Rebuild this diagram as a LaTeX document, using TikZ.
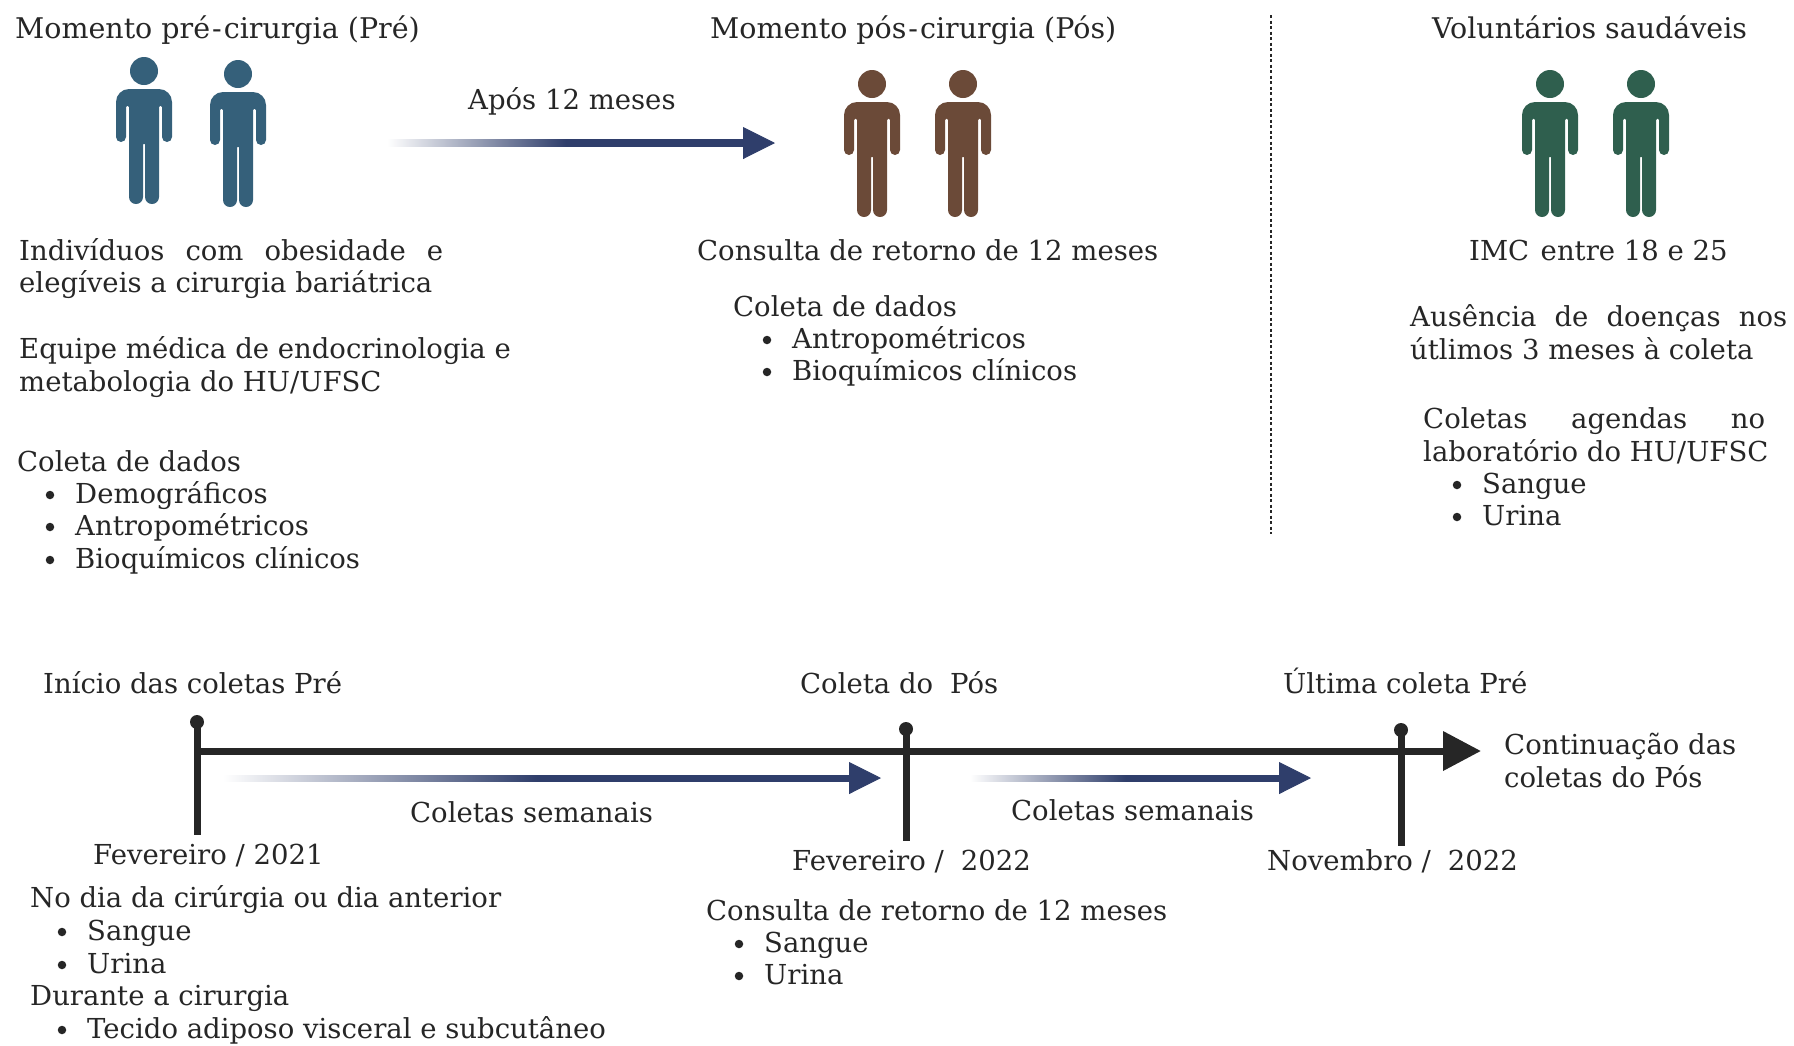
\documentclass[tikz,border=0pt]{standalone}
\usepackage{fontspec}
\usepackage{xcolor}
\setmainfont{DejaVu Serif}
\usetikzlibrary{arrows.meta,calc}
\definecolor{preblue}{HTML}{35607A}
\definecolor{posbrown}{HTML}{6B4A38}
\definecolor{healthgreen}{HTML}{2F5F4E}
\definecolor{arrowblue}{HTML}{2F3E6B}
\definecolor{lineblack}{HTML}{262626}
\pgfdeclarehorizontalshading{fadeshaft}{100bp}{color(0bp)=(white); color(25bp)=(white); color(50bp)=(arrowblue); color(100bp)=(arrowblue)}
\tikzset{
	txt/.style={anchor=base west,inner sep=0pt,text=lineblack,font=\fontsize{27.5}{30}\selectfont},
	titletxt/.style={txt,font=\fontsize{28.5}{30}\selectfont},
	timeline/.style={draw=lineblack,line width=7pt},
	tickdot/.style={circle,fill=lineblack,inner sep=0pt,minimum size=14pt},
	bulletdot/.style={circle,fill=lineblack,inner sep=0pt,minimum size=8.5pt},
	person/.pic={
		\fill (0,0) circle (14);
		\fill (-15,-18) -- (15,-18) arc (90:0:13) -- (28,-66) arc (0:-180:5) -- (18,-36) arc (0:180:1.5)
			-- (15,-126) arc (0:-180:7) -- (1,-73) -- (-1,-73) -- (-1,-126) arc (0:-180:7)
			-- (-15,-36) arc (0:180:1.5) -- (-18,-66) arc (0:-180:5) -- (-28,-31) arc (180:90:13) -- cycle;
	}
}
\newcommand{\gradarrow}[3]{
	\shade[shading=fadeshaft] ($(#1)+(0,#3)$) rectangle ($(#2)+(-30,-#3)$);
	\draw[arrowblue,line width=1pt,-{Triangle[length=32pt,width=32pt]}] ($(#2)+(-33,0)$) -- (#2);
}
\newcommand{\listline}[4]{
	\node[txt] (#1) at (#2,#3) {#4};
	\node[bulletdot] (#1dot) at (#2-25,#3+8) {};
}
\newcommand{\dashkern}{\kern2pt-\kern2pt}
\begin{document}
\begin{tikzpicture}[x=1pt,y=1pt]
	\useasboundingbox (0,0) rectangle (1794,-1045);
	% top row
	\node[titletxt] (pretitle) at (15,-38) {Momento pré\dashkern cirurgia (Pré)};
	\node[titletxt] (postitle) at (710,-38) {Momento pós\dashkern cirurgia (Pós)};
	\node[titletxt] (voltitle) at (1432,-38) {Voluntários saudáveis};
	\pic[preblue] at (144,-71) {person};
	\pic[preblue] at (238,-74) {person};
	\pic[posbrown] at (872,-84) {person};
	\pic[posbrown] at (963,-84) {person};
	\pic[healthgreen] at (1550,-84) {person};
	\pic[healthgreen] at (1641,-84) {person};
	\coordinate (stayA) at (387,-143);
	\coordinate (stayB) at (775,-143);
	\gradarrow{stayA}{stayB}{3.5}
	\node[txt] (staylabel) at (468,-109) {Após 12 meses};
	\coordinate (sepA) at (1271,-15);
	\coordinate (sepB) at (1271,-534);
	\draw[lineblack,line width=1.5pt,dash pattern=on 3pt off 2.5pt] (sepA) -- (sepB);
	% left column
	\node[txt] (prea) at (19,-260) {\makebox[424pt][s]{Indivíduos\hfil com\hfil obesidade\hfil e}};
	\node[txt] (preb) at (19,-292) {elegíveis a cirurgia bariátrica};
	\node[txt] (prec) at (19,-358) {Equipe médica de endocrinologia e};
	\node[txt] (pred) at (19,-391) {metabologia do HU/UFSC};
	\node[txt] (pree) at (17,-471) {Coleta de dados};
	\listline{pref}{75}{-503}{Demográficos}
	\listline{preg}{75}{-535}{Antropométricos}
	\listline{preh}{75}{-568}{Bioquímicos clínicos}
	% middle column
	\node[txt] (posa) at (697,-260) {Consulta de retorno de 12 meses};
	\node[txt] (posb) at (733,-316) {Coleta de dados};
	\listline{posc}{792}{-348}{Antropométricos}
	\listline{posd}{792}{-380}{Bioquímicos clínicos}
	% right column
	\node[txt] (vola) at (1469,-260) {IMC\hspace{0.1em} entre 18 e 25};
	\node[txt] (volb) at (1410,-326) {\makebox[377pt][s]{Ausência\hfil de\hfil doenças\hfil nos}};
	\node[txt] (volc) at (1410,-359) {útlimos 3 meses à coleta};
	\node[txt] (vold) at (1423,-428) {\makebox[342pt][s]{Coletas\hfil agendas\hfil no}};
	\node[txt] (vole) at (1423,-461) {laboratório do HU/UFSC};
	\listline{volf}{1482}{-493}{Sangue}
	\listline{volg}{1482}{-525}{Urina}
	% timeline
	\coordinate (tlstart) at (197,-751);
	\coordinate (tlend) at (1481,-751);
	\draw[timeline,-{Triangle[length=38pt,width=38pt]}] (tlstart) -- (tlend);
	\node[tickdot] (tickAtop) at (197,-722) {};
	\node[tickdot] (tickBtop) at (906,-729) {};
	\node[tickdot] (tickCtop) at (1401,-730) {};
	\coordinate (tickAend) at (197,-835);
	\coordinate (tickBend) at (906,-841);
	\coordinate (tickCend) at (1401,-846);
	\draw[timeline] (tickAtop.center) -- (tickAend);
	\draw[timeline] (tickBtop.center) -- (tickBend);
	\draw[timeline] (tickCtop.center) -- (tickCend);
	\coordinate (weekAa) at (223,-778);
	\coordinate (weekAb) at (881,-778);
	\gradarrow{weekAa}{weekAb}{3}
	\coordinate (weekBa) at (970,-778);
	\coordinate (weekBb) at (1311,-778);
	\gradarrow{weekBa}{weekBb}{3}
	\node[txt] (tlAhead) at (43,-693) {Início das coletas Pré};
	\node[txt] (tlBhead) at (800,-693) {Coleta do\hspace{0.3em} Pós};
	\node[txt] (tlChead) at (1283,-693) {Última coleta Pré};
	\node[txt] (tlcontA) at (1504,-754) {Continuação das};
	\node[txt] (tlcontB) at (1504,-787) {coletas do Pós};
	\node[txt] (weekAlabel) at (410,-822) {Coletas semanais};
	\node[txt] (weekBlabel) at (1011,-820) {Coletas semanais};
	\node[txt] (tlAdate) at (93,-864) {Fevereiro / 2021};
	\node[txt] (tlBdate) at (792,-870) {Fevereiro /\hspace{0.3em} 2022};
	\node[txt] (tlCdate) at (1267,-870) {Novembro /\hspace{0.3em} 2022};
	\node[txt] (tlAa) at (30,-907) {No dia da cirúrgia ou dia anterior};
	\listline{tlAb}{87}{-940}{Sangue}
	\listline{tlAc}{87}{-973}{Urina}
	\node[txt] (tlAd) at (30,-1005) {Durante a cirurgia};
	\listline{tlAe}{87}{-1038}{Tecido adiposo visceral e subcutâneo}
	\node[txt] (tlBa) at (706,-920) {Consulta de retorno de 12 meses};
	\listline{tlBb}{764}{-952}{Sangue}
	\listline{tlBc}{764}{-984}{Urina}
\end{tikzpicture}
\end{document}
